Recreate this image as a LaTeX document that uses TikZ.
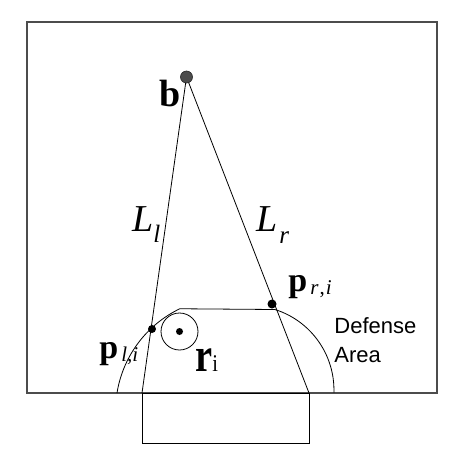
\documentclass[tikz,border=0pt]{standalone}
\usepackage{fontspec}
\setmainfont{Liberation Serif}
\newfontfamily\sansf{Liberation Sans}
\newcommand{\fsz}[1]{\fontsize{#1}{#1}\selectfont}
\begin{document}
\begin{tikzpicture}[x=1pt,y=-1pt,line width=0.8pt,
  lbl/.style={inner sep=0pt, anchor=base west},
  dotn/.style={circle, fill=black, draw=none, inner sep=0pt, minimum size=#1},
  dotn/.default=8pt]
\useasboundingbox (0,0) rectangle (460,466);
% field and goal
\draw[line width=1.3pt, black!70] (27,22) rectangle (437,393);
\draw (142,393) rectangle (309,443);
% defense area
\draw (117,393) arc[start angle=-170.9, end angle=-115.7, radius=113.4]
  -- (275,309.5) arc[start angle=-72.4, end angle=1.7, radius=84.5];
% ball and shooting lines
\coordinate (b) at (186.5,77);
\coordinate (gl) at (142,393);
\coordinate (gr) at (309,393);
\draw (b) -- (gl);
\draw (b) -- (gr);
\node[circle, fill=black!70, draw=black!85, line width=0.6pt, minimum size=12pt, inner sep=0pt] (ball) at (b) {};
% points
\node[dotn] (pl) at (152,329) {};
\node[dotn=9pt] (pr) at (272,304) {};
% robot
\node[circle, draw, minimum size=37pt, inner sep=0pt] (robot) at (179.5,331.5) {};
\node[dotn=7pt] (rc) at (robot.center) {};
% labels
\node[lbl] (blbl) at (159,106) {\fsz{38}\textbf{b}};
\node[lbl] (Ll) at (132,231) {\fsz{38}\textit{L}};
\node[lbl] (Lls) at (153,242) {\fsz{25}\textit{l}};
\node[lbl] (Lr) at (256,231) {\fsz{38}\textit{L}};
\node[lbl] (Lrs) at (279,243) {\fsz{25}\textit{r}};
\node[lbl] (plb) at (99,358) {\fsz{34}\textbf{p}};
\node[lbl] (plbs) at (121,361) {\fsz{21}\textit{l},\textit{i}};
\node[lbl] (prb) at (288,291) {\fsz{34}\textbf{p}};
\node[lbl] (prbs) at (310,294) {\fsz{21}\textit{r}\kern1pt,\kern1pt\textit{i}};
\node[lbl] (ri) at (195,371) {\fsz{48}\scalebox{0.8}[1]{\textbf{r}}};
\node[lbl] (ris) at (212,371) {\fsz{24}\scalebox{0.85}[1]{i}};
\node[lbl, font=\sansf\fsz{22}] (def) at (334,333) {Defense};
\node[lbl, font=\sansf\fsz{22}] (area) at (334,362) {Area};
\end{tikzpicture}
\end{document}
